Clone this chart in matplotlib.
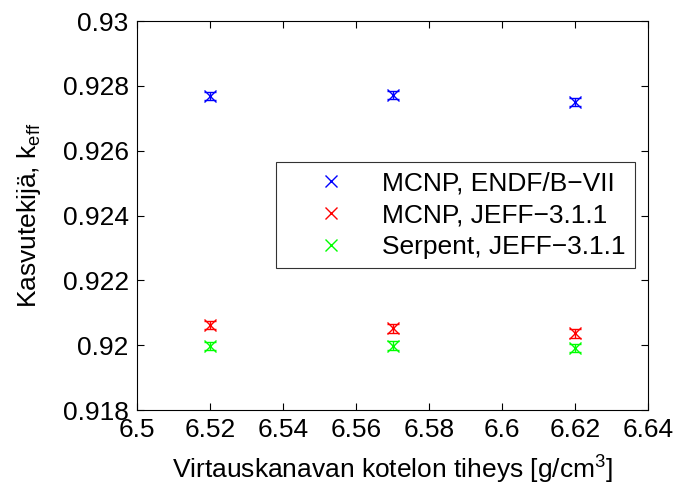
import matplotlib
matplotlib.use("Agg")
import matplotlib.pyplot as plt
from matplotlib.lines import Line2D
from matplotlib.ticker import FuncFormatter

plt.rcParams['font.family'] = ['Liberation Sans', 'DejaVu Sans']
plt.rcParams['mathtext.fontset'] = 'custom'
plt.rcParams['mathtext.rm'] = 'Liberation Sans'
plt.rcParams['mathtext.it'] = 'Liberation Sans'

density = [6.52, 6.57, 6.62]
keff_mcnp_endf = [0.92769, 0.92772, 0.92751]
keff_mcnp_jeff = [0.92062, 0.92052, 0.92037]
keff_serpent_jeff = [0.91998, 0.91999, 0.91991]
keff_err = [0.00013, 0.00013, 0.00013]

labels = ['MCNP, ENDF/B\u2212VII', 'MCNP, JEFF\u22123.1.1', 'Serpent, JEFF\u22123.1.1']
colors = ['#0000ff', '#ff0000', '#00ff00']
series = [keff_mcnp_endf, keff_mcnp_jeff, keff_serpent_jeff]

FS = 19

fig = plt.figure(figsize=(6.75, 4.9), dpi=100)
ax = fig.add_axes([0.203, 0.163, 0.757, 0.794])

for vals, c in zip(series, colors):
    ax.errorbar(density, vals, yerr=keff_err, fmt='x', color=c, ms=8,
                mew=1.0, elinewidth=1.0, capsize=4, capthick=1.0)

ax.set_xlim(6.5, 6.64)
ax.set_ylim(0.918, 0.93)
ax.set_xticks([6.5, 6.52, 6.54, 6.56, 6.58, 6.6, 6.62, 6.64])
ax.set_yticks([0.918, 0.92, 0.922, 0.924, 0.926, 0.928, 0.93])
fmt = FuncFormatter(lambda v, p: ('%.4f' % v).rstrip('0').rstrip('.'))
ax.xaxis.set_major_formatter(fmt)
ax.yaxis.set_major_formatter(fmt)
ax.tick_params(direction='in', top=True, right=True, labelsize=FS, length=5, pad=6)
for s in ax.spines.values():
    s.set_linewidth(0.8)

ax.set_xlabel('Virtauskanavan kotelon tiheys [g/cm$^3$]', fontsize=FS, labelpad=8)
ax.set_ylabel('Kasvutekijä, k$_{\\mathrm{eff}}$', fontsize=FS, labelpad=14)

handles = [Line2D([], [], ls='none', marker='x', color=c, ms=8, mew=1.0) for c in colors]
leg = ax.legend(handles, labels, loc='upper right', bbox_to_anchor=(0.975, 0.6375),
                fontsize=FS, frameon=True, fancybox=False, edgecolor='black',
                handlelength=3.5, handletextpad=0.2, borderpad=0.35,
                labelspacing=0.3, borderaxespad=0)
leg.get_frame().set_linewidth(0.8)

fig.savefig('out.png', dpi=100)
